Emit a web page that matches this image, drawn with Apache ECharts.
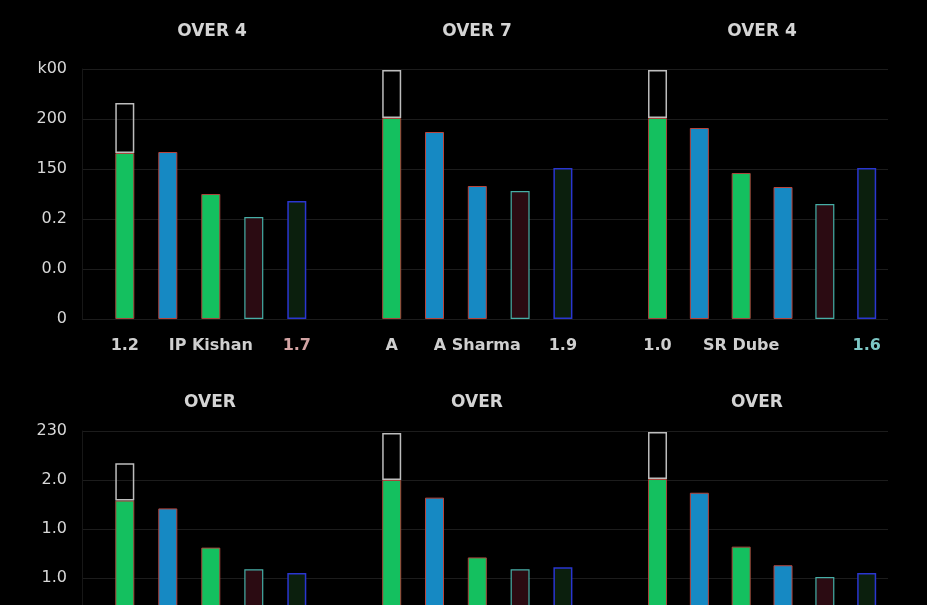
<!DOCTYPE html>
<html lang="en">
<head>
  <meta charset="UTF-8">
  <title>Overs</title>
  <script src="https://cdn.jsdelivr.net/npm/echarts@6/dist/echarts.min.js"></script>
  <style>
    html,body{margin:0;padding:0;background:#000;}
    #main{width:927px;height:605px;}
  </style>
</head>
<body>
  <div id="main"></div>
  <script>
    // panel titles, row by row
    const titlesTop = ['OVER 4', 'OVER 7', 'OVER 4'];
    const titlesBottom = ['OVER', 'OVER', 'OVER'];

    // y tick labels as printed, from 0 upward (step 50)
    const yTicksTop = ['0', '0.0', '0.2', '150', '200', 'k00'];
    const yTicksBottom = ['0', '0.0', '1.0', '1.0', '2.0', '230'];

    // x labels for each panel (blank slots carry no label)
    const cats1 = ['1.2', '', 'IP Kishan', '', '1.7', ''];
    const cats2 = ['A', '', 'A Sharma', '', '1.9', ''];
    const cats3 = ['1.0', '', 'SR Dube', '', '', '1.6'];

    // bar values
    const top1 = [166, 167, 125, 102, 118];
    const top2 = [201, 187, 133, 128, 151];
    const top3 = [201, 191, 146, 132, 115, 151];
    const bottom1 = [179, 171, 131, 109, 105];
    const bottom2 = [200, 182, 121, 109, 111];
    const bottom3 = [201, 187, 132, 113, 101, 105];
    // outlined part stacked on the first bar of each panel
    const topExtra = [50, 48, 48];
    const bottomExtra = [38, 48, 48];

    // kind of each bar
    const kindsTop1 = ['green', 'blue', 'green', 'red', 'dark'];
    const kindsTop2 = ['green', 'blue', 'blue', 'red', 'dark'];
    const kindsTop3 = ['green', 'blue', 'green', 'blue', 'red', 'dark'];
    const kindsBottom1 = ['green', 'blue', 'green', 'red', 'dark'];
    const kindsBottom2 = ['green', 'blue', 'green', 'red', 'dark'];
    const kindsBottom3 = ['green', 'blue', 'green', 'blue', 'red', 'dark'];

    const styles = {
      green: {color: '#14c05f', borderColor: '#a8453c', borderWidth: 1},
      blue: {color: '#1689c3', borderColor: '#b8443c', borderWidth: 1},
      red: {color: '#2b0b12', borderColor: '#46aea6', borderWidth: 1.2},
      dark: {color: '#0b1f0d', borderColor: '#2a36d0', borderWidth: 1.5}
    };
    const extraStyle = {color: 'rgba(0,0,0,0)', borderColor: '#bdbdbd', borderWidth: 1.5};

    const labelColor = {'1.7': '#d2a3a3', '1.6': '#7cc6c4'};

    const rows = [
      {top: 69, height: 250, ticks: yTicksTop, titles: titlesTop, titleY: 32,
        cats: [cats1, cats2, cats3], vals: [top1, top2, top3],
        kinds: [kindsTop1, kindsTop2, kindsTop3], extra: topExtra},
      {top: 431, height: 245, ticks: yTicksBottom, titles: titlesBottom, titleY: 403,
        cats: [cats1, cats2, cats3], vals: [bottom1, bottom2, bottom3],
        kinds: [kindsBottom1, kindsBottom2, kindsBottom3], extra: bottomExtra}
    ];
    const panels = [[103.3, 258], [370.3, 256.8], [636.6, 251]];
    const titleX = [[212, 477, 762], [210, 477, 757]];

    const grid = [], xAxis = [], yAxis = [], series = [], graphic = [];

    rows.forEach((row, r) => {
      // background grid: y labels + gridlines across the row
      let gi = grid.length;
      grid.push({left: 82, width: 806, top: row.top, height: row.height,
        outerBoundsMode: 'none', containLabel: false});
      xAxis.push({type: 'value', gridIndex: gi, show: false});
      yAxis.push({
        type: 'value', gridIndex: gi, min: 0, max: 250, interval: 50,
        axisLine: {show: true, lineStyle: {color: '#171717'}},
        axisTick: {show: false},
        axisLabel: {
          color: '#d8d8d8', fontSize: 16, fontFamily: 'DejaVu Sans', margin: 15,
          formatter: v => row.ticks[Math.round(v / 50)]
        },
        splitLine: {lineStyle: {color: '#1c1c1c', width: 1}}
      });

      panels.forEach((p, k) => {
        gi = grid.length;
        grid.push({left: p[0], width: p[1], top: row.top, height: row.height,
          outerBoundsMode: 'none', containLabel: false});
        xAxis.push({
          type: 'category', gridIndex: gi, data: row.cats[k],
          axisLine: {show: false}, axisTick: {show: false},
          axisLabel: {
            interval: 0, margin: 19, fontSize: 16, fontWeight: 'bold',
            fontFamily: 'DejaVu Sans',
            color: v => labelColor[v] || '#cfcfcf'
          }
        });
        yAxis.push({type: 'value', gridIndex: gi, min: 0, max: 250, show: false});
        series.push({
          type: 'bar', xAxisIndex: gi, yAxisIndex: gi, stack: 's' + gi, barWidth: 19,
          data: row.vals[k].map((v, i) => ({value: v, itemStyle: styles[row.kinds[k][i]]}))
        });
        series.push({
          type: 'bar', xAxisIndex: gi, yAxisIndex: gi, stack: 's' + gi, barWidth: 19,
          itemStyle: extraStyle,
          data: [row.extra[k]]
        });
        graphic.push({
          type: 'text', x: titleX[r][k], y: row.titleY,
          style: {
            text: row.titles[k], fill: '#d4d4d4', font: 'bold 17px "DejaVu Sans"',
            textAlign: 'center', textVerticalAlign: 'middle'
          }
        });
      });
    });

    const option = {
      backgroundColor: '#000',
      animation: false,
      grid: grid,
      xAxis: xAxis,
      yAxis: yAxis,
      series: series,
      graphic: graphic
    };
    const myChart = echarts.init(document.getElementById('main'));
    myChart.setOption(option);
  </script>
</body>
</html>
